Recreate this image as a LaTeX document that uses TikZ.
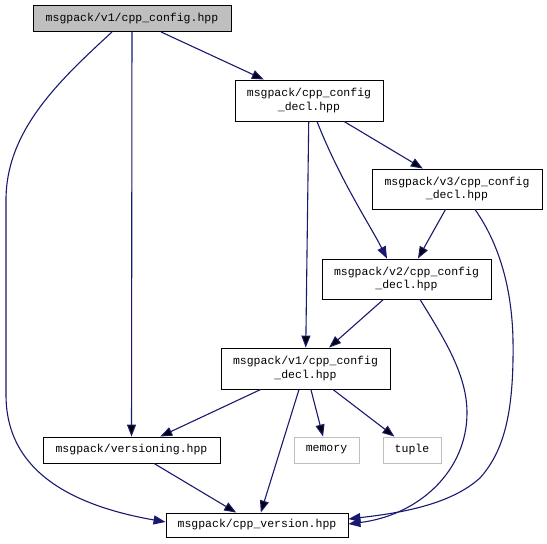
\documentclass[tikz,border=0pt]{standalone}
\usepackage{fontspec}
\setmonofont{Liberation Mono}
\usepackage{xcolor}
\definecolor{edgeblue}{HTML}{191970}
\definecolor{boxgray}{HTML}{BFBFBF}
\usetikzlibrary{arrows.meta,positioning}

\begin{document}
\begin{tikzpicture}[x=1pt,y=-1pt,
    file/.style={draw=black,fill=white,line width=0.9pt,inner sep=0pt,minimum height=26pt,
                 align=center,font=\ttfamily\fontsize{11.5}{13.5}\selectfont},
    sysfile/.style={file,draw=boxgray},
    dep/.style={-{Triangle[length=12pt,width=9pt]},draw=edgeblue,line width=1.1pt}]
   \useasboundingbox (0,0) rectangle (547,544);
   % include graph nodes
   \node[file,fill=boxgray,minimum width=198pt] (cfg) at (132,18.5) {msgpack/v1/cpp\_config.hpp};
   \node[file,minimum width=148pt,minimum height=41pt] (decl) at (309,100.5) {msgpack/cpp\_config\\\_decl.hpp};
   \node[file,minimum width=170pt,minimum height=40pt] (declv3) at (457,189) {msgpack/v3/cpp\_config\\\_decl.hpp};
   \node[file,minimum width=169pt,minimum height=40pt] (declv2) at (406.5,279) {msgpack/v2/cpp\_config\\\_decl.hpp};
   \node[file,minimum width=169pt,minimum height=41pt] (declv1) at (305.5,368.5) {msgpack/v1/cpp\_config\\\_decl.hpp};
   \node[file,minimum width=177pt] (vers) at (131.5,450) {msgpack/versioning.hpp};
   \node[sysfile,minimum width=65pt] (mem) at (326.5,450) {memory};
   \node[sysfile,minimum width=58pt] (tup) at (412,450) {tuple};
   \node[file,minimum width=182pt,minimum height=24pt] (ver) at (257,525) {msgpack/cpp\_version.hpp};
   % straight includes
   \path[dep]
    (cfg) edge (decl)
          edge (vers)
    (decl) edge (declv3)
           edge (declv1)
    (declv3) edge (declv2)
    (declv2) edge (declv1)
    (declv1) edge (vers)
             edge (mem)
             edge (tup)
             edge (ver)
    (vers) edge (ver);
   % curved includes
   \draw[dep] ([xshift=8pt]decl.south) .. controls (340,180) and (370,225) .. ([xshift=-19.5pt]declv2.north);
   \draw[dep] ([xshift=-20pt]cfg.south) .. controls (60,80) and (6,130) .. (6,200) -- (6,395)
      .. controls (6,450) and (40,500) .. ([yshift=3pt]ver.west);
   \draw[dep] ([xshift=18pt]declv3.south) .. controls (500,245) and (512,290) .. (513,340)
      .. controls (514,410) and (505,450) .. (480,478)
      .. controls (450,505) and (400,513) .. ([yshift=6pt]ver.east);
   \draw[dep] ([xshift=13.5pt]declv2.south) .. controls (445,340) and (467,375) .. (467,413)
      .. controls (467,470) and (420,515) .. ([yshift=1pt]ver.east);
\end{tikzpicture}
\end{document}
